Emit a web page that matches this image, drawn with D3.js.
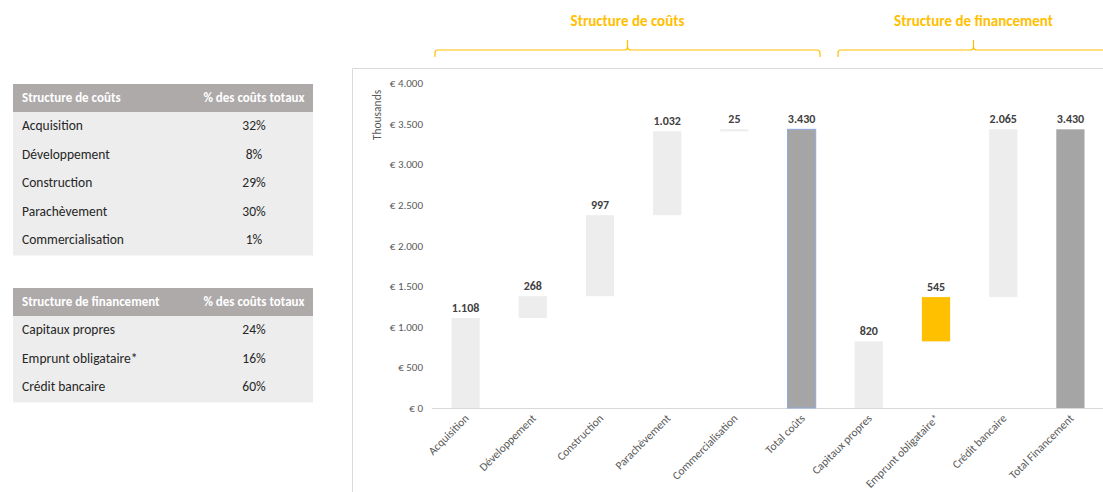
<!DOCTYPE html>
<html>
<head>
<meta charset="utf-8">
<script src="https://cdn.jsdelivr.net/npm/d3@7/dist/d3.min.js"></script>
<style>
  body { margin: 0; background: #fff; }
  svg { display: block; font-family: Carlito, "Open Sans", "Noto Sans", sans-serif; }
</style>
</head>
<body>
<svg id="chart" width="1103" height="492"></svg>
<script>
// données du graphique
const categories = ['Acquisition', 'Développement', 'Construction', 'Parachèvement', 'Commercialisation',
  'Total coûts', 'Capitaux propres', 'Emprunt obligataire*', 'Crédit bancaire', 'Total Financement'];
const values = [1108, 268, 997, 1032, 25, 3430, 820, 545, 2065, 3430];
const kinds = ['step', 'step', 'step', 'step', 'step', 'total', 'step', 'highlight', 'step', 'total'];
const yTicks = [0, 500, 1000, 1500, 2000, 2500, 3000, 3500, 4000];

const costRows = ['Acquisition', 'Développement', 'Construction', 'Parachèvement', 'Commercialisation'];
const costPct = ['32%', '8%', '29%', '30%', '1%'];
const finRows = ['Capitaux propres', 'Emprunt obligataire*', 'Crédit bancaire'];
const finPct = ['24%', '16%', '60%'];

const svg = d3.select('#chart');
const fmt = d3.formatLocale({ decimal: ',', thousands: '.', grouping: [3], currency: ['€ ', ''] }).format(',');

// tableaux à gauche
function renderTable(top, title, rows, pcts) {
  const g = svg.append('g').attr('transform', 'translate(13,' + top + ')');
  const rowH = 28.5;
  g.append('rect').attr('width', 300).attr('height', 28).attr('fill', '#aeaaaa');
  g.append('rect').attr('y', 28).attr('width', 300).attr('height', rows.length * rowH + 1).attr('fill', '#ededed');
  g.append('text').attr('x', 9).attr('y', 18).attr('fill', '#fff').attr('font-weight', 'bold')
    .attr('font-size', 13).text(title);
  g.append('text').attr('x', 241).attr('y', 18).attr('fill', '#fff').attr('font-weight', 'bold')
    .attr('font-size', 13).attr('text-anchor', 'middle').text('% des coûts totaux');
  rows.forEach(function(r, i) {
    const y = 28 + rowH * i + 18;
    g.append('text').attr('x', 9).attr('y', y).attr('fill', '#262626').attr('font-size', 13.5).text(r);
    g.append('text').attr('x', 241).attr('y', y).attr('fill', '#262626').attr('font-size', 13.5)
      .attr('text-anchor', 'middle').text(pcts[i]);
  });
}
renderTable(84, 'Structure de coûts', costRows, costPct);
renderTable(288, 'Structure de financement', finRows, finPct);

// cadre du graphique
svg.append('path').attr('d', 'M352.5,492V68.5H1103').attr('fill', 'none').attr('stroke', '#d9d9d9');

const x = d3.scaleBand().domain(categories).range([432, 1104]).paddingInner(0.58).paddingOuter(0.29);
const y = d3.scaleLinear().domain([0, 4000]).range([408, 83]);

// calcul des bases (cascade)
let run = 0;
const bars = categories.map(function(c, i) {
  let base;
  if (kinds[i] === 'total') { base = 0; run = 0; }
  else { base = run; run += values[i]; }
  return { cat: c, base: base, top: base + values[i], val: values[i], kind: kinds[i] };
});

// axe Y
const yAxis = d3.axisLeft(y).tickValues(yTicks).tickSize(0).tickPadding(9)
  .tickFormat(function(d) { return '€ ' + fmt(d); });
const ya = svg.append('g').attr('transform', 'translate(432,0)').call(yAxis)
  .attr('font-family', null).attr('font-size', null);
ya.select('.domain').remove();
ya.selectAll('text').attr('fill', '#595959').attr('font-size', 11);

svg.append('text').attr('transform', 'translate(381,115) rotate(-90)').attr('text-anchor', 'middle')
  .attr('fill', '#595959').attr('font-size', 11.5).text('Thousands');

// ligne de base
svg.append('line').attr('x1', 432).attr('x2', 1103).attr('y1', y(0) + 0.5).attr('y2', y(0) + 0.5)
  .attr('stroke', '#d9d9d9');

const colors = { step: '#ededed', total: '#a5a5a5', highlight: '#ffc000' };
const bw = x.bandwidth();
svg.append('g').selectAll('rect').data(bars).enter().append('rect')
  .attr('x', function(d) { return x(d.cat); })
  .attr('y', function(d) { return y(d.top); })
  .attr('width', bw)
  .attr('height', function(d) { return y(d.base) - y(d.top); })
  .attr('fill', function(d) { return colors[d.kind]; })
  .attr('stroke', function(d) { return d.cat === 'Total coûts' ? '#8faadc' : 'none'; });

svg.append('g').selectAll('text').data(bars).enter().append('text')
  .attr('x', function(d) { return x(d.cat) + bw / 2; })
  .attr('y', function(d) { return y(d.top) - 6; })
  .attr('text-anchor', 'middle').attr('font-weight', 'bold').attr('font-size', 12)
  .attr('fill', '#404040')
  .text(function(d) { return fmt(d.val); });

// étiquettes X inclinées
const xa = svg.append('g').attr('transform', 'translate(0,' + (y(0) + 1) + ')')
  .call(d3.axisBottom(x).tickSize(0).tickPadding(0))
  .attr('font-family', null).attr('font-size', null);
xa.select('.domain').remove();
xa.selectAll('text').attr('fill', '#595959').attr('font-size', 11.5)
  .attr('text-anchor', 'end').attr('dy', 0)
  .attr('transform', 'translate(4,10) rotate(-45)');

// accolades en haut
function renderBrace(x0, x1, label) {
  const mid = (x0 + x1) / 2;
  const g = svg.append('g').attr('fill', 'none').attr('stroke', '#ffc000').attr('stroke-width', 1.2);
  g.append('path').attr('d',
    'M' + x0 + ',57 V53 Q' + x0 + ',50 ' + (x0 + 3) + ',50 H' + (mid - 3) + ' Q' + mid + ',50 ' + mid + ',47 V40' +
    ' M' + mid + ',47 Q' + mid + ',50 ' + (mid + 3) + ',50 H' + (x1 - 3) + ' Q' + x1 + ',50 ' + x1 + ',53 V57');
  svg.append('text').attr('x', mid).attr('y', 26).attr('text-anchor', 'middle').attr('fill', '#ffc000')
    .attr('font-weight', 'bold').attr('font-size', 15).text(label);
}
renderBrace(435, 820, 'Structure de coûts');
renderBrace(838, 1109, 'Structure de financement');
</script>
</body>
</html>
